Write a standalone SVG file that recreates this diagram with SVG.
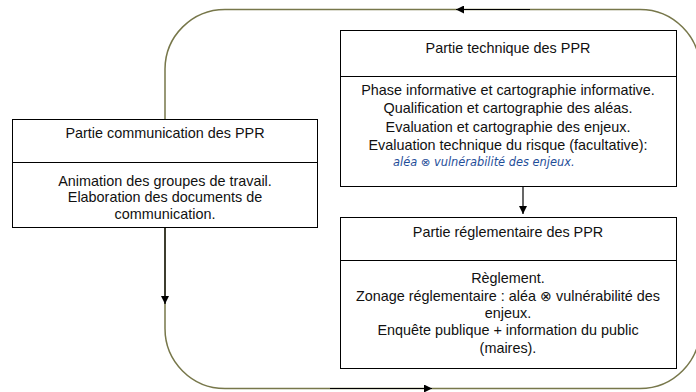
<svg xmlns="http://www.w3.org/2000/svg" width="696" height="392" viewBox="0 0 696 392">
<style>
.box{fill:#fff;stroke:#000;stroke-width:1}
.div{stroke:#000;stroke-width:1}
.t{font-family:"Liberation Sans",Arial,sans-serif;font-size:14.4px;fill:#111;text-anchor:middle}
.it{font-family:"DejaVu Sans","Noto Sans",sans-serif;font-style:italic;font-size:11.4px;fill:#1f4e99}
.loop{fill:none;stroke:#77774a;stroke-width:1.5}
.blk{fill:none;stroke:#000;stroke-width:1.2}
</style>
<defs>
<marker id="ah" viewBox="0 0 10 10" refX="10" refY="5" markerWidth="8" markerHeight="8" markerUnits="userSpaceOnUse" orient="auto">
<path d="M0,0 L10,5 L0,10 z" fill="#000"/>
</marker>
</defs>
<rect width="696" height="392" fill="#fff"/>
<g id="connectors">
<path class="loop" d="M165,119 L165,69 A60,60 0 0 1 225,9.5 L640,9.5 A60,60 0 0 1 700,69.5 L700,328 A60,60 0 0 1 640,388.5 L225,388.5 A60,60 0 0 1 165,328.5 L165,227"/>
<path class="blk" d="M530,9.5 L456,9.5" marker-end="url(#ah)"/>
<path class="blk" d="M330,388.5 L432,388.5" marker-end="url(#ah)"/>
<path class="blk" d="M165,227 L165,304" marker-end="url(#ah)"/>
<path class="blk" d="M523,187 L523,214" marker-end="url(#ah)"/>
</g>
<g id="communication">
<rect class="box" x="12.5" y="119.5" width="305" height="108"/>
<line class="div" x1="12.5" y1="162.5" x2="317.5" y2="162.5"/>
<text class="t" x="165" y="138">Partie communication des PPR</text>
<text class="t" x="165" y="186">Animation des groupes de travail.</text>
<text class="t" x="165" y="202">Elaboration des documents de</text>
<text class="t" x="165" y="219">communication.</text>
</g>
<g id="technique">
<rect class="box" x="340.5" y="30.5" width="336" height="156"/>
<line class="div" x1="340.5" y1="76.5" x2="676.5" y2="76.5"/>
<text class="t" x="508" y="53">Partie technique des PPR</text>
<text class="t" x="508" y="95">Phase informative et cartographie informative.</text>
<text class="t" x="508" y="113">Qualification et cartographie des aléas.</text>
<text class="t" x="508" y="132">Evaluation et cartographie des enjeux.</text>
<text class="t" x="508" y="150">Evaluation technique du risque (facultative):</text>
<text class="it" x="393" y="166">aléa ⊗ vulnérabilité des enjeux.</text>
</g>
<g id="reglementaire">
<rect class="box" x="340.5" y="217.5" width="336" height="151"/>
<line class="div" x1="340.5" y1="260.5" x2="676.5" y2="260.5"/>
<text class="t" x="508" y="237">Partie réglementaire des PPR</text>
<text class="t" x="508" y="283">Règlement.</text>
<text class="t" x="508" y="301">Zonage réglementaire : aléa ⊗ vulnérabilité des</text>
<text class="t" x="508" y="318">enjeux.</text>
<text class="t" x="508" y="335">Enquête publique + information du public</text>
<text class="t" x="508" y="353">(maires).</text>
</g>
</svg>
